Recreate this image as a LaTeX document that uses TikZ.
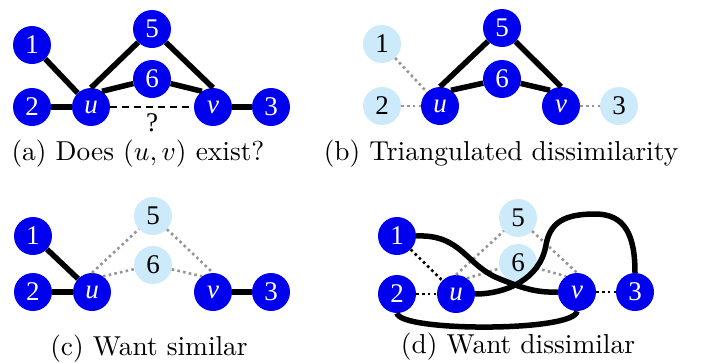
\documentclass[tikz,border=0pt]{standalone}
\usepackage{fontspec}
\usepackage{graphicx}
\newfontfamily\nodefont{Liberation Serif}
\definecolor{nblue}{RGB}{0,0,238}
\definecolor{lblue}{RGB}{204,234,250}
\definecolor{dgray}{RGB}{150,150,150}
\newcommand\nodesize{\nodefont\fontsize{27pt}{27pt}\selectfont}
\tikzset{
 vtx/.style={circle,fill=nblue,text=white,minimum size=38pt,inner sep=0pt,font=\nodesize},
 ghost/.style={vtx,fill=lblue,text=black},
 strong/.style={line width=5.5pt},
 weak/.style={line width=2.6pt,draw=dgray,dash pattern=on 2.6pt off 3.2pt},
 bdot/.style={line width=2.6pt,draw=black,dash pattern=on 2.6pt off 3.2pt},
 query/.style={line width=1.2pt,dash pattern=on 7pt off 5pt},
 capt/.style={anchor=base,inner sep=0pt},
 qmark/.style={anchor=base,inner sep=0pt,font=\nodesize}
}
\begin{document}
\begin{tikzpicture}[x=1pt,y=-1pt]
\useasboundingbox (0,0) rectangle (713,362);
% ---------- (a)
\node[vtx] (a1) at (32,45) {1};
\node[vtx] (a2) at (32,107) {2};
\node[vtx] (au) at (91,107) {\textit{u}};
\node[vtx] (a5) at (152,29) {5};
\node[vtx] (a6) at (152,79) {6};
\node[vtx] (av) at (213,107) {\textit{v}};
\node[vtx] (a3) at (271,107) {3};
\draw[strong] (a1) -- (au);
\draw[strong] (a2) -- (au);
\draw[strong] (au.north) -- (a5);
\draw[strong] (a5) -- (av.north);
\draw[strong] (au.55) -- (a6);
\draw[strong] (a6) -- (av.125);
\draw[strong] (av) -- (a3);
\draw[query] (au) -- (av);
\node[qmark] (aq) at (152,131) {?};
\node[capt] (ac) at (138,160) {\scalebox{2.74}{(a) Does $(u,v)$ exist?}};
% ---------- (b)
\node[ghost] (b1) at (382,44) {1};
\node[ghost] (b2) at (382,106) {2};
\node[vtx] (bu) at (440,106) {\textit{u}};
\node[vtx] (b5) at (502,28) {5};
\node[vtx] (b6) at (502,79) {6};
\node[vtx] (bv) at (561,106) {\textit{v}};
\node[ghost] (b3) at (619,106) {3};
\draw[weak] (b1) -- (bu);
\draw[weak] (b2) -- (bu);
\draw[weak] (bv) -- (b3);
\draw[strong] (bu.north) -- (b5);
\draw[strong] (b5) -- (bv.north);
\draw[strong] (bu.55) -- (b6);
\draw[strong] (b6) -- (bv.125);
\node[capt] (bc) at (501,160) {\scalebox{2.74}{(b) Triangulated dissimilarity}};
% ---------- (c)
\node[vtx] (c1) at (33,236) {1};
\node[vtx] (c2) at (33,292) {2};
\node[vtx] (cu) at (92,292) {\textit{u}};
\node[ghost] (c5) at (153,216) {5};
\node[ghost] (c6) at (153,265) {6};
\node[vtx] (cv) at (213,292) {\textit{v}};
\node[vtx] (c3) at (271,292) {3};
\draw[strong] (c1) -- (cu);
\draw[strong] (c2) -- (cu);
\draw[strong] (cv) -- (c3);
\draw[weak] (cu.north) -- (c5);
\draw[weak] (c5) -- (cv.north);
\draw[weak] (cu.55) -- (c6);
\draw[weak] (c6) -- (cv.125);
\node[capt] (cc) at (149,355) {\scalebox{2.74}{(c) Want similar}};
% ---------- (d)
\node[vtx] (d1) at (397,236) {1};
\node[vtx] (d2) at (397,294) {2};
\node[vtx] (du) at (456,294) {\textit{u}};
\node[ghost] (d5) at (518,218) {5};
\node[ghost] (d6) at (518,263) {6};
\node[vtx] (dv) at (577,292) {\textit{v}};
\node[vtx] (d3) at (635,292) {3};
\draw[bdot] (d1) -- (du);
\draw[bdot] (d2) -- (du);
\draw[bdot] (dv) -- (d3);
\draw[weak] (du.north) -- (d5);
\draw[weak] (d5) -- (dv.north);
\draw[weak] (du.55) -- (d6);
\draw[weak] (d6) -- (dv.125);
\draw[strong] (d1.east) .. controls (462,234) and (466,266) .. (500,279)
   .. controls (520,287) and (535,293) .. (dv.west);
\draw[strong] (du.east) .. controls (505,294) and (540,280) .. (546,245)
   .. controls (550,222) and (565,214) .. (595,214)
   .. controls (625,214) and (635,235) .. (d3.north);
\draw[strong] (d2.south) .. controls (400,332) and (575,332) .. (dv.south);
\node[capt] (dc) at (518,353) {\scalebox{2.74}{(d) Want dissimilar}};
\end{tikzpicture}
\end{document}
